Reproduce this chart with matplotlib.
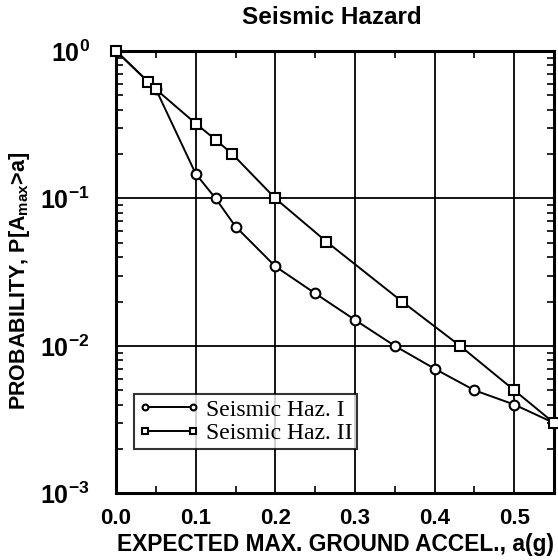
import math
import matplotlib
matplotlib.use("Agg")
import matplotlib.pyplot as plt
from matplotlib.ticker import FixedLocator, LogLocator, NullFormatter, FuncFormatter

plt.rcParams['font.family'] = ['Liberation Sans', 'DejaVu Sans']
plt.rcParams['mathtext.fontset'] = 'custom'
plt.rcParams['mathtext.rm'] = 'Liberation Sans:bold'
plt.rcParams['mathtext.it'] = 'Liberation Sans:bold'
plt.rcParams['mathtext.bf'] = 'Liberation Sans:bold'

accel_I = [0.0, 0.05, 0.10, 0.125, 0.15, 0.20, 0.25, 0.30, 0.35, 0.40, 0.45, 0.50, 0.55]
prob_I = [1.0, 0.55, 0.147, 0.10, 0.0645, 0.0346, 0.0227, 0.015, 0.010, 0.0070, 0.0050, 0.0040, 0.0030]

accel_II = [0.0, 0.04, 0.05, 0.10, 0.125, 0.146, 0.20, 0.264, 0.359, 0.432, 0.50, 0.55]
prob_II = [1.0, 0.62, 0.55, 0.322, 0.25, 0.20, 0.10, 0.051, 0.020, 0.010, 0.005, 0.0030]

x_ticks = [0.0, 0.1, 0.2, 0.3, 0.4, 0.5]
x_tick_labels = ["0.0", "0.1", "0.2", "0.3", "0.4", "0.5"]

fig = plt.figure(figsize=(5.58, 5.6), dpi=100)
ax = fig.add_axes([0.208, 0.119, 0.785, 0.79])

ax.set_yscale('log')
ax.set_xlim(0, 0.55)
ax.set_ylim(1e-3, 1)

ax.plot(accel_I, prob_I, color='black', lw=1.4, marker='o', ms=7, mfc='white',
        mec='black', mew=1.5, label='Seismic Haz. I', clip_on=False, zorder=5)
ax.plot(accel_II, prob_II, color='black', lw=1.4, marker='s', ms=7, mfc='white',
        mec='black', mew=1.5, label='Seismic Haz. II', clip_on=False, zorder=5)

ax.xaxis.set_major_locator(FixedLocator(x_ticks))
ax.set_xticklabels(x_tick_labels)
ax.xaxis.set_minor_locator(FixedLocator([0.05, 0.15, 0.25, 0.35, 0.45]))
ax.yaxis.set_major_locator(LogLocator(base=10, numticks=10))
ax.yaxis.set_minor_locator(LogLocator(base=10, subs=range(2, 10), numticks=10))
ax.yaxis.set_minor_formatter(NullFormatter())
ax.yaxis.set_major_formatter(FuncFormatter(lambda v, p: r'$10^{%d}$' % round(math.log10(v))))

ax.grid(True, which='major', color='black', lw=1.3)
ax.tick_params(which='both', direction='in', top=True, right=True, colors='black')
ax.tick_params(axis='x', which='major', length=0, labelsize=16, pad=10.5)
ax.tick_params(axis='y', which='major', length=0, labelsize=18, pad=19)
ax.tick_params(which='minor', length=5, width=1.2)
for lab in ax.get_xticklabels():
    lab.set_fontweight('bold')
for s in ax.spines.values():
    s.set_linewidth(2.2)

fig.text(332 / 558, 1 - 18 / 560, 'Seismic Hazard', fontsize=17.5, fontweight='bold',
         ha='center', va='center')
ax.set_xlabel('EXPECTED MAX. GROUND ACCEL., a(g)', fontsize=16.4, fontweight='bold')
ax.xaxis.set_label_coords(0.5, (493 - 533) / 442)
ax.set_ylabel(r'PROBABILITY, P[A$_{\rm max}$>a]', fontsize=15.5, fontweight='bold')
ax.yaxis.set_label_coords((19 - 116) / 438, (493 - 281) / 442)
ax.yaxis.label.set_va('center')

leg = ax.legend(loc='lower left', bbox_to_anchor=(0.04, 0.1), numpoints=2, markerscale=0.6,
                handlelength=2.6, frameon=True, fancybox=False, edgecolor='black',
                prop={'family': 'Liberation Serif', 'size': 17}, borderpad=0.2,
                labelspacing=0.1, handletextpad=0.25, borderaxespad=0)
leg.get_frame().set_linewidth(1.5)

fig.savefig('out.png', dpi=100)
